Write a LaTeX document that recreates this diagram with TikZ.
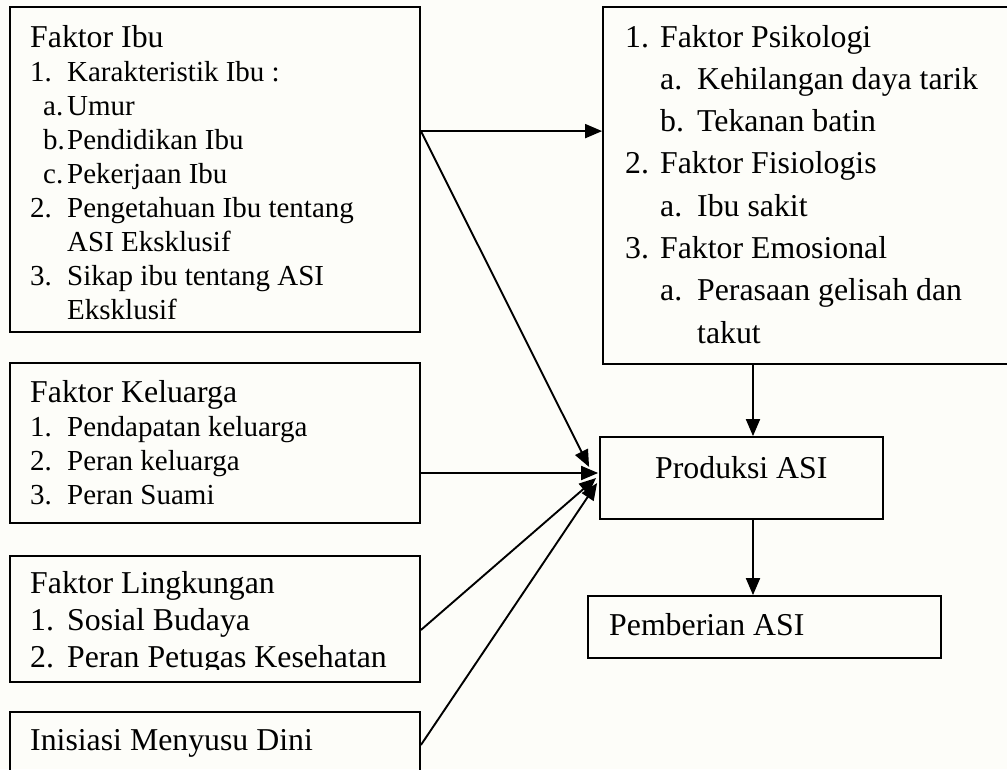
\documentclass[tikz,border=0pt]{standalone}
\usepackage{fontspec}
\setmainfont{Liberation Serif}
\usetikzlibrary{arrows.meta}
\definecolor{paper}{RGB}{253,253,249}
\newcommand{\itm}[3][37pt]{\hbox{\makebox[#1][l]{#2}#3}}
\newcommand{\subitm}[2]{\hbox{\hspace*{13pt}\makebox[24pt][l]{#1}#2}}
\newcommand{\cont}[2][37pt]{\hbox{\hspace*{#1}#2}}
\newcommand{\bigtxt}{\fontsize{31.8}{34}\selectfont}
\newcommand{\smalltxt}{\fontsize{29}{34}\selectfont}
\tikzset{
  box/.style={draw, line width=1.8pt, rectangle, inner sep=0pt},
  txt/.style={anchor=base west, inner sep=0pt, font=\bigtxt},
  arr/.style={line width=1.9pt, -{Triangle[length=17pt,width=14pt]}},
}
\begin{document}
\begin{tikzpicture}[x=1pt,y=-1pt]
\clip (0,0) rectangle (1007,769);
\fill[paper] (0,0) rectangle (1007,769);
% boxes
\node[box, minimum width=410pt, minimum height=325pt] (ibu) at (215,169.5) {};
\node[box, minimum width=410pt, minimum height=160pt] (kel) at (215,443) {};
\node[box, minimum width=410pt, minimum height=126pt] (ling) at (215,619) {};
\node[box, minimum width=410pt, minimum height=88pt] (ini) at (215,756) {};
\node[box, minimum width=417pt, minimum height=357pt] (psi) at (811.5,185.5) {};
\node[box, minimum width=283pt, minimum height=82pt] (prod) at (741.5,478) {};
\node[box, minimum width=353pt, minimum height=62pt] (pemb) at (764.5,627) {};
% texts
\node[txt] (tibu) at (30,47) {\vtop{\baselineskip=33.8pt
  \hbox{Faktor Ibu}\smalltxt
  \itm{1.}{Karakteristik Ibu :}
  \subitm{a.}{Umur}
  \subitm{b.}{Pendidikan Ibu}
  \subitm{c.}{Pekerjaan Ibu}
  \itm{2.}{Pengetahuan Ibu tentang}
  \cont{ASI Eksklusif}
  \itm{3.}{Sikap ibu tentang ASI}
  \cont{Eksklusif}}};
\node[txt] (tkel) at (30,402) {\vtop{\baselineskip=34pt
  \hbox{Faktor Keluarga}\smalltxt
  \itm{1.}{Pendapatan keluarga}
  \itm{2.}{Peran keluarga}
  \itm{3.}{Peran Suami}}};
\begin{scope}
\clip (10,556) rectangle (420,669);
\node[txt] (tling) at (30,593) {\vtop{\baselineskip=37pt
  \hbox{Faktor Lingkungan}
  \itm{1.}{Sosial Budaya}
  \itm{2.}{Peran Petugas Kesehatan}}};
\end{scope}
\node[txt] (tini) at (30,750) {Inisiasi Menyusu Dini};
\node[txt] (tpsi) at (625,47) {\vtop{\baselineskip=42.3pt
  \itm[35pt]{1.}{Faktor Psikologi}
  \hbox{\hspace*{35pt}\makebox[37pt][l]{a.}Kehilangan daya tarik}
  \hbox{\hspace*{35pt}\makebox[37pt][l]{b.}Tekanan batin}
  \itm[35pt]{2.}{Faktor Fisiologis}
  \hbox{\hspace*{35pt}\makebox[37pt][l]{a.}Ibu sakit}
  \itm[35pt]{3.}{Faktor Emosional}
  \hbox{\hspace*{35pt}\makebox[37pt][l]{a.}Perasaan gelisah dan}
  \cont[72pt]{takut}}};
\node[txt] (tprod) at (655,478) {Produksi ASI};
\node[txt] (tpemb) at (609,635) {Pemberian ASI};
% connectors
\coordinate (ibuR) at ([yshift=-125pt]ibu.north east);
\draw[arr] (ibuR) -- ([yshift=-125pt]psi.north west);
\draw[arr] (ibuR) -- ([shift={(-10pt,11pt)}]prod.west);
\draw[arr] ([yshift=-30pt]kel.east) -- ([shift={(-1pt,5pt)}]prod.west);
\draw[arr] ([yshift=-11pt]ling.east) -- ([shift={(-3pt,0pt)}]prod.west);
\draw[arr] ([yshift=11pt]ini.east) -- ([shift={(-2pt,-5pt)}]prod.west);
\draw[arr] ([xshift=-58.5pt]psi.south) -- ([xshift=11.5pt]prod.north);
\draw[arr] ([xshift=11.5pt]prod.south) -- ([xshift=-11.5pt]pemb.north);
\end{tikzpicture}
\end{document}
